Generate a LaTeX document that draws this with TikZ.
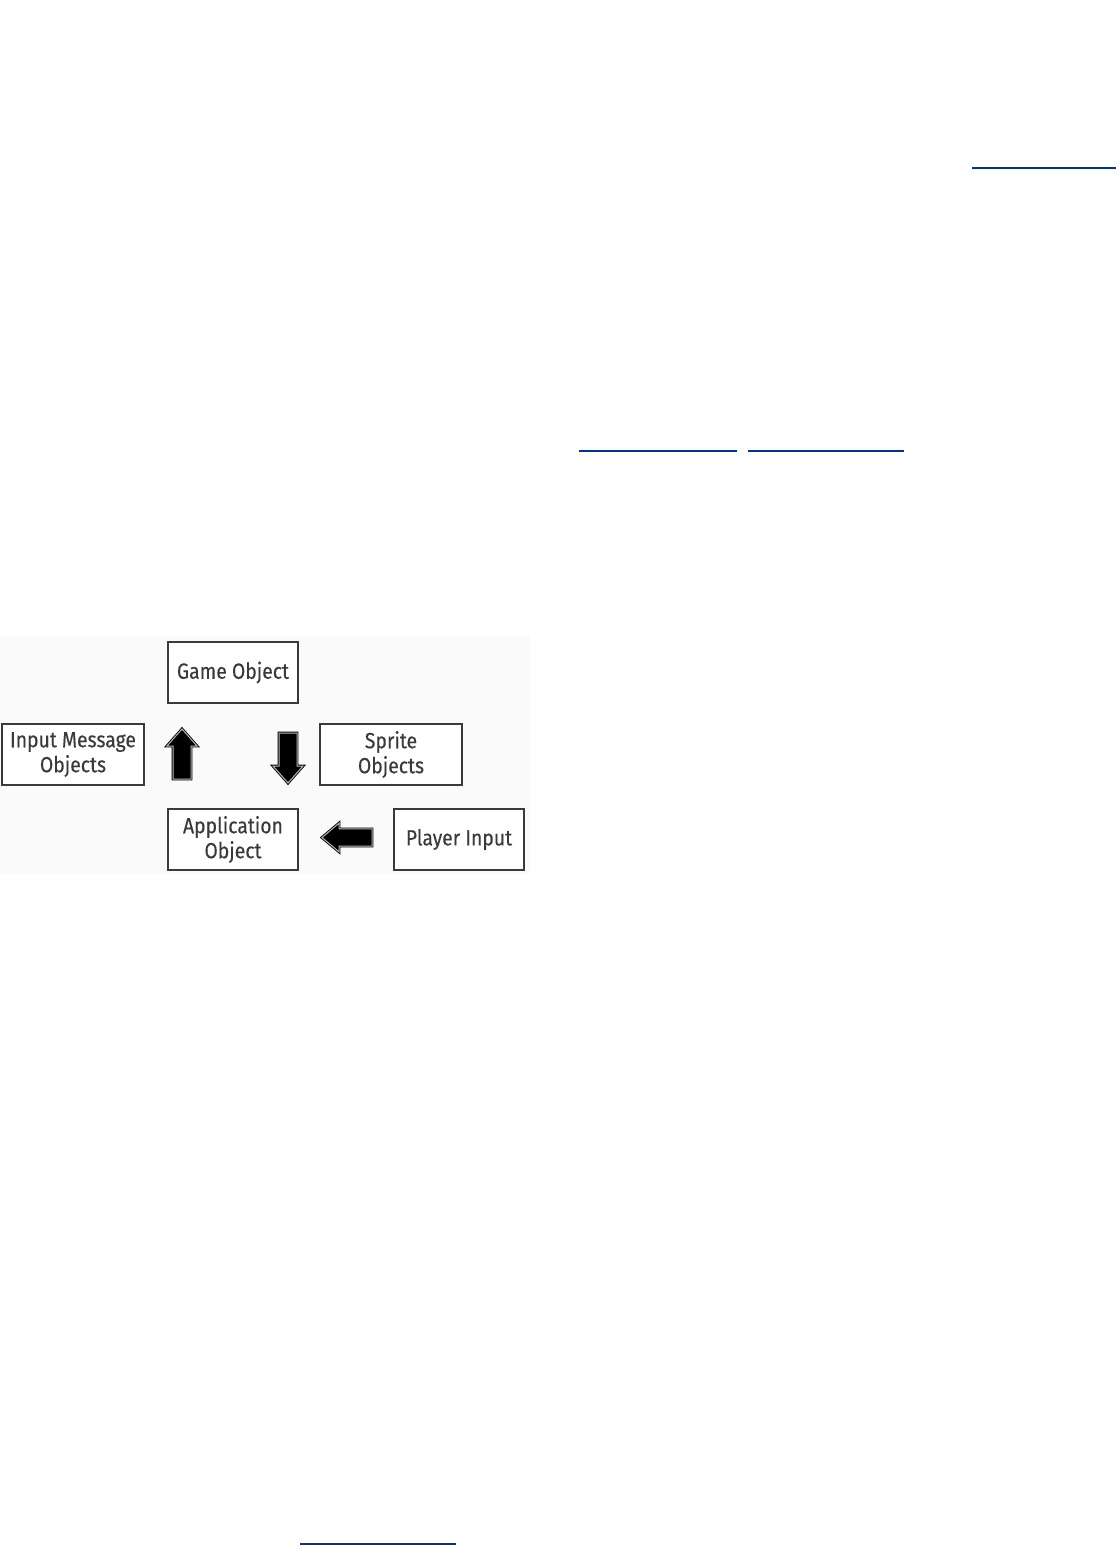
\documentclass[tikz,border=0pt]{standalone}
\usepackage{fontspec}
\usepackage{tikz}
\usetikzlibrary{positioning}
\newfontfamily\boxfont{Fira Sans}[FakeStretch=0.88, FakeBold=0.25]
\definecolor{boxGray}{HTML}{3A3A3A}
\definecolor{linkBlue}{HTML}{003399}

\tikzset{
  objbox/.style={draw=boxGray, line width=0.75pt, fill=white, align=center,
    minimum width=65pt, minimum height=30.5pt, inner sep=0pt, text=boxGray,
    font=\boxfont\fontsize{11}{12.5}\selectfont},
  widebox/.style={objbox, minimum width=71pt},
  link/.style={linkBlue, line width=1pt},
  pics/fatarrow/.style={code={
    \draw[fill=black, draw=black, double=gray!55, double distance=0.5pt, line width=0.45pt, line join=miter]
      (0,-9) -- (33,-9) -- (33,-15) -- (50,0) -- (33,15) -- (33,9) -- (0,9) -- cycle;
  }}
}

\begin{document}
\begin{tikzpicture}[x=0.5pt, y=-0.5pt]
\useasboundingbox (0,0) rectangle (1116,1545);
\fill[black!2] (0,636) rectangle (530,874);

% link underlines of the page
\draw[link] (972,168) -- (1116,168);
\draw[link] (579,451) -- (737,451);
\draw[link] (748,451) -- (904,451);
\draw[link] (300,1544) -- (456,1544);

% objects
\node[objbox] (game) at (233,672.5) {Game Object};
\node[widebox] (inmsg) at (73,754.5) {Input Message\\Objects};
\node[widebox] (sprite) at (391,754.5) {Sprite\\Objects};
\node[objbox] (app) at (233,839.5) {Application\\Object};
\node[objbox] (player) at (459,839.5) {Player Input};

% flow arrows
\pic[rotate=90] at (182,779) {fatarrow};
\pic[rotate=-90] at (288,733) {fatarrow};
\pic[rotate=180, yscale=0.95] at (372,837.5) {fatarrow};
\end{tikzpicture}
\end{document}
